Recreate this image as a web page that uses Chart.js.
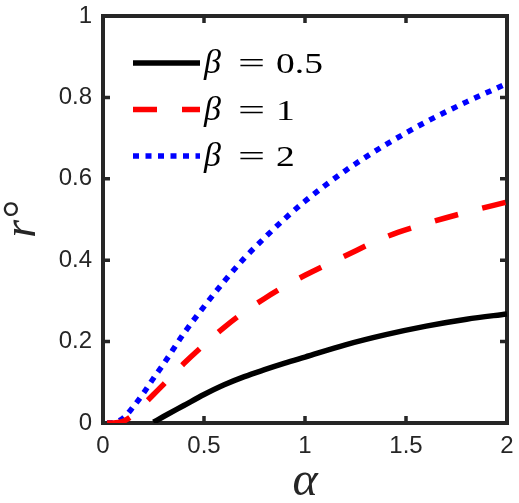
<!DOCTYPE html>
<html>
<head>
<meta charset="utf-8">
<script src="https://cdn.jsdelivr.net/npm/chart.js@4.4.1/dist/chart.umd.min.js"></script>
<style>
  html, body { margin: 0; padding: 0; background: #fff; }
  #wrap { width: 519px; height: 503px; }
</style>
</head>
<body>
<div id="wrap"><canvas id="chart" width="519" height="503"></canvas></div>
<script>
// values
const alpha   = [0.02, 0.05, 0.1, 0.15, 0.2, 0.25, 0.3, 0.4, 0.5, 0.6, 0.7, 0.8, 0.9, 1.0, 1.2, 1.4, 1.6, 1.8, 2.0];
const rBeta05 = [null, null, null, null, null, 0.002, 0.016, 0.043, 0.07, 0.094, 0.114, 0.131, 0.147, 0.162, 0.192, 0.217, 0.238, 0.255, 0.268];
const rBeta1  = [0, 0, 0.004, 0.02, 0.045, 0.07, 0.095, 0.146, 0.192, 0.235, 0.273, 0.306, 0.336, 0.363, 0.411, 0.457, 0.49, 0.518, 0.543];
const rBeta2  = [0, 0.001, 0.012, 0.04, 0.073, 0.11, 0.145, 0.22, 0.286, 0.348, 0.405, 0.455, 0.502, 0.545, 0.62, 0.684, 0.74, 0.789, 0.834];
const betaLabels = ['0.5', '1', '2'];
const xTicks = [0, 0.5, 1, 1.5, 2];
const yTicks = [0, 0.2, 0.4, 0.6, 0.8, 1];

const axisColor = '#262626';
const tickFont = { family: "'Liberation Sans', Arial, sans-serif", size: 24 };
const fmt = v => String(+Number(v).toFixed(2));

function toPoints(ys) {
  return alpha.map((a, i) => ({ x: a, y: ys[i] }));
}

const seriesStyle = [
  { color: '#000000', dash: [] },
  { color: '#ff0000', dash: [24, 25] },
  { color: '#0000ff', dash: [6, 6.5] },
];

const datasets = [rBeta05, rBeta1, rBeta2].map((ys, i) => ({
  label: 'β = ' + betaLabels[i],
  data: toPoints(ys),
  borderColor: seriesStyle[i].color,
  borderDash: seriesStyle[i].dash,
  borderWidth: 5.5,
  borderCapStyle: 'butt',
  pointRadius: 0,
  fill: false,
  spanGaps: false,
  cubicInterpolationMode: 'monotone',
}));

// keep the plot box where the reference has it (no extra room for end labels)
function noPad(s) {
  s.paddingLeft = 0; s.paddingRight = 0; s.paddingTop = 0; s.paddingBottom = 0;
}

// box around the plot with inward ticks on all four sides
const framePlugin = {
  id: 'frame',
  beforeDatasetsDraw(chart) {
    const { ctx, chartArea: a, scales: { x, y } } = chart;
    ctx.save();
    ctx.strokeStyle = axisColor;
    ctx.lineWidth = 4;
    ctx.strokeRect(a.left, a.top, a.right - a.left, a.bottom - a.top);
    ctx.lineWidth = 3.5;
    const len = 7;
    xTicks.forEach(v => {
      const px = x.getPixelForValue(v);
      ctx.beginPath();
      ctx.moveTo(px, a.bottom); ctx.lineTo(px, a.bottom - len);
      ctx.moveTo(px, a.top); ctx.lineTo(px, a.top + len);
      ctx.stroke();
    });
    yTicks.forEach(v => {
      const py = y.getPixelForValue(v);
      ctx.beginPath();
      ctx.moveTo(a.left, py); ctx.lineTo(a.left + len, py);
      ctx.moveTo(a.right, py); ctx.lineTo(a.right - len, py);
      ctx.stroke();
    });
    ctx.restore();
  },
};

// legend inside the axes, with italic beta like the LaTeX legend
const legendPlugin = {
  id: 'innerLegend',
  afterDatasetsDraw(chart) {
    const { ctx, chartArea: a } = chart;
    ctx.save();
    chart.data.datasets.forEach((ds, i) => {
      const base = a.top + 57 + i * 46.5;
      const ly = base - 10;
      ctx.strokeStyle = ds.borderColor;
      ctx.lineWidth = ds.borderWidth;
      ctx.lineCap = 'butt';
      ctx.setLineDash(ds.borderDash);
      ctx.beginPath();
      ctx.moveTo(a.left + 30, ly);
      ctx.lineTo(a.left + 97, ly);
      ctx.stroke();
      ctx.setLineDash([]);
      ctx.fillStyle = '#000';
      ctx.textBaseline = 'alphabetic';
      ctx.textAlign = 'left';
      ctx.font = "italic 34px 'Liberation Serif', serif";
      ctx.fillText('β', a.left + 101, base);
      ctx.font = "30px 'Liberation Serif', serif";
      ctx.save();
      ctx.translate(a.left + 135, base);
      ctx.scale(1.6, 1);
      ctx.fillText('=', 0, 0);
      ctx.restore();
      ctx.save();
      ctx.translate(a.left + 173, base);
      ctx.scale(1.25, 1);
      ctx.fillText(betaLabels[i], 0, 0);
      ctx.restore();
    });
    ctx.restore();
  },
};

const ctx = document.getElementById('chart').getContext('2d');
new Chart(ctx, {
  type: 'line',
  data: { datasets },
  options: {
    responsive: false,
    animation: false,
    layout: { padding: { left: 0, top: 16, right: 12, bottom: 0 } },
    plugins: { legend: { display: false }, tooltip: { enabled: false } },
    scales: {
      x: {
        type: 'linear',
        min: 0,
        max: 2,
        afterBuildTicks: s => { s.ticks = xTicks.map(v => ({ value: v })); },
        afterFit: s => { s.height = 80; noPad(s); },
        grid: { display: false, drawTicks: false },
        border: { display: false },
        ticks: { color: axisColor, font: tickFont, padding: 9, maxRotation: 0, callback: fmt },
        title: {
          display: true,
          text: 'α',
          color: axisColor,
          font: { family: "'Liberation Serif', serif", style: 'italic', size: 48, lineHeight: 1 },
          padding: { top: 0, bottom: -3 },
        },
      },
      y: {
        type: 'linear',
        min: 0,
        max: 1,
        afterBuildTicks: s => { s.ticks = yTicks.map(v => ({ value: v })); },
        afterFit: s => { s.width = 103; noPad(s); },
        grid: { display: false, drawTicks: false },
        border: { display: false },
        ticks: { color: axisColor, font: tickFont, padding: 11, callback: fmt },
        title: {
          display: true,
          text: 'r°',
          color: axisColor,
          font: { family: "'Liberation Serif', serif", style: 'italic', size: 46, lineHeight: 1 },
          padding: { top: 0, bottom: 0 },
        },
      },
    },
  },
  plugins: [framePlugin, legendPlugin],
});
</script>
</body>
</html>
